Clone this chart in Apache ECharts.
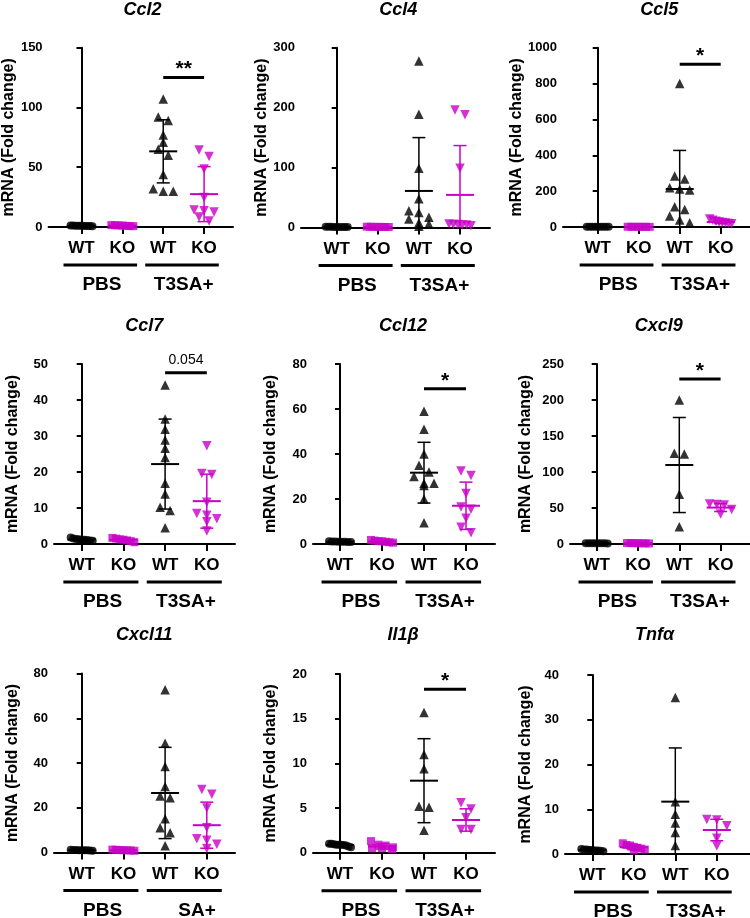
<!DOCTYPE html>
<html>
<head>
<meta charset="utf-8">
<script src="https://cdn.jsdelivr.net/npm/echarts@6/dist/echarts.min.js"></script>
<style>
html,body{margin:0;padding:0;background:#fff;}
#chart{width:750px;height:918px;}
</style>
</head>
<body>
<div id="chart"></div>
<script>
// ---------------- DATA ----------------
const genes = ['Ccl2','Ccl4','Ccl5','Ccl7','Ccl12','Cxcl9','Cxcl11','Il1β','Tnfα'];
const groupNames = ['WT','KO','WT','KO'];
const treatmentLabels = [
  ['PBS','T3SA+'],['PBS','T3SA+'],['PBS','T3SA+'],
  ['PBS','T3SA+'],['PBS','T3SA+'],['PBS','T3SA+'],
  ['PBS','SA+'],['PBS','T3SA+'],['PBS','T3SA+']
];
const yMax  = [150, 300, 1000, 50, 80, 250, 80, 20, 40];
const yStep = [50, 100, 200, 10, 20, 50, 20, 5, 10];

const wtPBS = [
  [1.2,0.8,1.0,1.1,0.9,1.3,0.7,1.0,1.0,0.9],
  [1.0,1.1,0.9,1.0,1.2,0.8,1.0,1.0,1.1],
  [1.0,1.2,0.9,1.1,1.0,0.8,1.0,1.1,0.9],
  [1.8,1.5,1.3,1.2,1.1,1.0,0.9,1.2,1.4],
  [1.2,1.1,1.0,1.0,0.9,0.9,1.1,1.0],
  [1.0,1.1,0.9,1.0,1.2,0.8,1.0,1.1],
  [1.2,1.1,1.0,1.0,0.9,1.0,1.1,0.8,1.0],
  [1.0,0.95,0.9,0.9,0.85,1.0,0.8,0.6,0.7,0.9],
  [1.1,1.0,0.9,0.8,0.8,0.7,0.9,1.0,0.6]
];
const koPBS = [
  [1.6,1.3,1.0,0.8,1.2,0.7,1.5],
  [1.2,1.0,0.9,1.1,0.8,1.3,1.0],
  [1.5,1.0,0.8,1.2,0.9,1.1,1.3],
  [1.7,1.5,1.3,1.2,1.0,0.8,0.5],
  [1.8,1.5,1.2,1.0,0.8,0.6,1.3],
  [1.3,1.0,0.8,1.2,0.9,1.1,1.4],
  [1.3,1.1,1.0,0.9,0.8,1.2,1.0],
  [1.3,0.9,0.8,0.6,0.5,0.5,0.4],
  [2.4,2.0,1.9,1.6,1.4,1.0,0.8,1.2]
];
const wtT3SA = [
  [107,92,89,77,71,65,60,44,32,30,30],
  [278,189,99,48,28,25,17,14,8,6,2],
  [801,284,268,219,212,206,113,98,61,39,24],
  [44.2,34.7,31.9,28.9,26.6,24,16.9,13.9,10.2,9.3,4.5],
  [59,51,40,35,32,30,27,27,26,20,9.5],
  [200,126,125,69,24],
  [72.7,48.8,38.4,29.5,25.2,24.5,15.1,11.1,8.8,3],
  [15.7,11.0,9.4,5.2,5.1,2.5],
  [35,11.7,8.9,6.9,4.8,1.9]
];
const koT3SA = [
  [64.5,59,48.5,24.7,14.3,13.5,12.6,8.4,5],
  [196,188,99,6,5,5,4,4,3],
  [45,38,32,28,25,22,20,18],
  [27.3,19.6,19.3,11.6,8.5,8,7,6.2,3.6],
  [32.5,30.5,22.5,16.5,15.5,11.5,7.5,5],
  [55.5,55,54,48,41.5],
  [28.2,26,19.9,11.1,6.2,5.5,3.7,1.8],
  [5.6,4.9,3.9,2.6,2.6],
  [7.7,7.6,6.3,3.5,1.8]
];
// group means and SDs: [WT PBS, KO PBS, WT T3SA+, KO T3SA+]
const groupMeans = [
  [1.0,1.2,63.3,27.5],
  [1.0,1.0,61,54.4],
  [1.0,1.1,212,28],
  [1.25,1.15,22.2,11.9],
  [1.0,1.1,31.7,17],
  [1.0,1.1,109.7,50.6],
  [1.0,1.0,26.6,12.2],
  [0.86,0.7,8.06,3.66],
  [0.87,1.5,11.7,5.36]
];
const groupSDs = [
  [0.2,0.3,26.4,23],
  [0.1,0.2,89,82.3],
  [0.1,0.2,215,9],
  [0.3,0.4,12.5,7.5],
  [0.1,0.4,13.5,10.5],
  [0.1,0.2,66,5.5],
  [0.1,0.2,20.4,10.3],
  [0.13,0.3,4.7,1.25],
  [0.16,0.55,12,2.4]
];
const sigText  = ['**', '', '*', '0.054', '*', '*', '', '*', ''];
const sigLevel = [125, null, 907, 47.6, 69, 229, null, 18.3, null];

// ---------------- LAYOUT / STYLE ----------------
const MAG = '#c800c8';
const FONT = '"Liberation Sans", Arial, Helvetica, sans-serif';
const layout = [
  {left:48,  right:233, c0:81,    s:41,   top:47.7,  bottom:227,   gap:27, ty:10},
  {left:301, right:490, c0:336.7, s:41.1, top:47.7,  bottom:227.5, gap:27, ty:10},
  {left:563, right:750, c0:597.7, s:41,   top:47.7,  bottom:227,   gap:29, ty:10},
  {left:54,  right:235, c0:81.7,  s:41.7, top:364,   bottom:544,   gap:33, ty:326.5},
  {left:313, right:495, c0:340,   s:42,   top:364,   bottom:544,   gap:34, ty:326.5},
  {left:570, right:750, c0:596.7, s:41.3, top:364,   bottom:544,   gap:36, ty:326.5},
  {left:54,  right:235, c0:81.7,  s:41.7, top:673.5, bottom:852.5, gap:33, ty:635},
  {left:313, right:495, c0:340,   s:42,   top:674,   bottom:852.7, gap:34, ty:635},
  {left:565, right:750, c0:592.3, s:41.5, top:675,   bottom:854,   gap:31, ty:635}
];

const measureCtx = document.createElement('canvas').getContext('2d');
function textWidth(t, font){ measureCtx.font = font; return measureCtx.measureText(t).width; }
const GROUP_FONT = 'bold 19px ' + FONT;

const chart = echarts.init(document.getElementById('chart'), null, {renderer:'canvas'});

const grids = [], xAxes = [], yAxes = [], series = [], graphics = [];
const scatterRefs = [];

const groupValues = (p) => [wtPBS[p], koPBS[p], wtT3SA[p], koT3SA[p]];
const groupStyle = [
  {symbol:'circle', size:8, color:'#000', rotate:0},
  {symbol:'rect', size:8, color:MAG, rotate:0},
  {symbol:'triangle', size:9.5, color:'#000', rotate:0},
  {symbol:'triangle', size:9.5, color:MAG, rotate:180}
];

layout.forEach((L, p) => {
  const xmin = (L.left - L.c0) / L.s;
  const xmax = (L.right - L.c0) / L.s;
  grids.push({left:L.left, top:L.top, width:L.right - L.left, height:L.bottom - L.top, containLabel:false});
  xAxes.push({
    type:'value', gridIndex:p, min:xmin, max:xmax,
    axisLine:{show:true, onZero:false, lineStyle:{color:'#000', width:2}},
    axisTick:{show:true, length:7, lineStyle:{color:'#000', width:2}, customValues:[0,1,2,3]},
    axisLabel:{show:true, customValues:[0,1,2,3], margin:13,
      formatter:(v)=>groupNames[Math.round(v)],
      color:'#000', fontSize:17, fontWeight:'bold', fontFamily:FONT},
    splitLine:{show:false}
  });
  yAxes.push({
    type:'value', gridIndex:p, min:0, max:yMax[p], interval:yStep[p],
    name:'mRNA (Fold change)', nameLocation:'middle', nameGap:L.gap,
    nameTextStyle:{color:'#000', fontSize:16, fontWeight:'bold', fontFamily:FONT},
    axisLine:{show:true, lineStyle:{color:'#000', width:2}},
    axisTick:{show:true, length:5, lineStyle:{color:'#000', width:2}},
    axisLabel:{color:'#000', fontSize:13, fontWeight:'bold', fontFamily:FONT, margin:6,
      formatter:(v)=>String(v)},
    splitLine:{show:false}
  });
  graphics.push({
    type:'text', x:L.c0 + 1.5 * L.s, y:L.ty,
    style:{text:genes[p], font:'italic bold 18px ' + FONT, fill:'#000',
      textAlign:'center', textVerticalAlign:'middle', align:'center', verticalAlign:'middle'}
  });
  groupValues(p).forEach((vals, g) => {
    const st = groupStyle[g];
    scatterRefs.push({seriesIndex:series.length, panel:p, group:g, values:vals});
    series.push({
      type:'scatter', xAxisIndex:p, yAxisIndex:p, z:2,
      symbol:st.symbol, symbolSize:st.size, symbolRotate:st.rotate,
      itemStyle:{color:st.color},
      data:vals.map(v => ({value:[g, v]})),
      silent:true, clip:false
    });
  });
  series.push({
    type:'custom', xAxisIndex:p, yAxisIndex:p, z:3, silent:true,
    encode:{x:0, y:1},
    data:groupMeans[p].map((m, g) => [g, m, groupSDs[p][g], g % 2]),
    renderItem:(params, api) => {
      const x = api.value(0), m = api.value(1), sd = api.value(2);
      const color = api.value(3) ? MAG : '#000';
      const pm = api.coord([x, m]);
      const ph = api.coord([x, m + sd]);
      const pl = api.coord([x, Math.max(0, m - sd)]);
      const ch = [
        {type:'line', shape:{x1:pm[0]-14, y1:pm[1], x2:pm[0]+14, y2:pm[1]}, style:{stroke:color, lineWidth:2}},
        {type:'line', shape:{x1:pm[0], y1:ph[1], x2:pm[0], y2:pl[1]}, style:{stroke:color, lineWidth:1.5}},
        {type:'line', shape:{x1:pm[0]-6.5, y1:ph[1], x2:pm[0]+6.5, y2:ph[1]}, style:{stroke:color, lineWidth:1.5}}
      ];
      if (m - sd > 0) ch.push({type:'line', shape:{x1:pm[0]-6.5, y1:pl[1], x2:pm[0]+6.5, y2:pl[1]}, style:{stroke:color, lineWidth:1.5}});
      return {type:'group', children:ch};
    }
  });
  series.push({
    type:'custom', xAxisIndex:p, yAxisIndex:p, z:3, silent:true, clip:false,
    encode:{x:0, y:1},
    data:[[0.5, 0, 0], [2.5, 0, 1]],
    renderItem:(params, api) => {
      const cx = api.value(0), li = api.value(2);
      const a = api.coord([cx - 0.94, 0]), b = api.coord([cx + 0.86, 0]), c = api.coord([cx, 0]);
      const label = treatmentLabels[p][li];
      let tx = c[0], align = 'center';
      if (li === 1) { tx = c[0] + textWidth('T3SA+', GROUP_FONT) / 2; align = 'right'; }
      return {type:'group', children:[
        {type:'line', shape:{x1:a[0], y1:a[1]+38, x2:b[0], y2:b[1]+38}, style:{stroke:'#000', lineWidth:3}},
        {type:'text', x:tx, y:c[1]+58, style:{text:label, font:GROUP_FONT, fill:'#000',
          textAlign:align, textVerticalAlign:'middle', align:align, verticalAlign:'middle'}}
      ]};
    }
  });
  if (sigLevel[p] !== null) {
    series.push({
      type:'custom', xAxisIndex:p, yAxisIndex:p, z:3, silent:true, clip:false,
      encode:{x:0, y:1},
      data:[[2, sigLevel[p], 3]],
      renderItem:(params, api) => {
        const a = api.coord([api.value(0), api.value(1)]);
        const b = api.coord([api.value(2), api.value(1)]);
        const txt = sigText[p];
        const isNum = /\d/.test(txt);
        return {type:'group', children:[
          {type:'line', shape:{x1:a[0], y1:a[1], x2:b[0], y2:b[1]}, style:{stroke:'#000', lineWidth:3}},
          {type:'text', x:(a[0]+b[0])/2, y:a[1] - (isNum ? 12 : 8), style:{text:txt,
            font:(isNum ? '14px ' : 'bold 21px ') + FONT, fill:'#000',
            textAlign:'center', textVerticalAlign:'middle', align:'center', verticalAlign:'middle'}}
        ]};
      }
    });
  }
});

const option = {
  animation:false,
  backgroundColor:'#fff',
  grid:grids, xAxis:xAxes, yAxis:yAxes, series:series, graphic:graphics
};
chart.setOption(option);

// -------- beeswarm spreading, computed from the library's pixel scale --------
function swarm(pys, d, maxSpan) {
  const idx = pys.map((y, i) => i).sort((a, b) => pys[a] - pys[b]);
  const off = new Array(pys.length).fill(0);
  const rows = []; let cur = null;
  idx.forEach(i => {
    if (cur && pys[i] - pys[cur[0]] < d * 0.7) cur.push(i);
    else { cur = [i]; rows.push(cur); }
  });
  rows.forEach(r => {
    const n = r.length; if (n < 2) return;
    const sp = Math.min(d, maxSpan / (n - 1));
    r.forEach((i, k) => { off[i] = (k - (n - 1) / 2) * sp; });
  });
  return off;
}
scatterRefs.forEach(ref => {
  const pys = ref.values.map(v => chart.convertToPixel({gridIndex:ref.panel}, [ref.group, v])[1]);
  const off = swarm(pys, 10, 22);
  series[ref.seriesIndex].data = ref.values.map((v, i) => ({value:[ref.group, v], symbolOffset:[off[i], 0]}));
});
chart.setOption({series:series});
</script>
</body>
</html>
